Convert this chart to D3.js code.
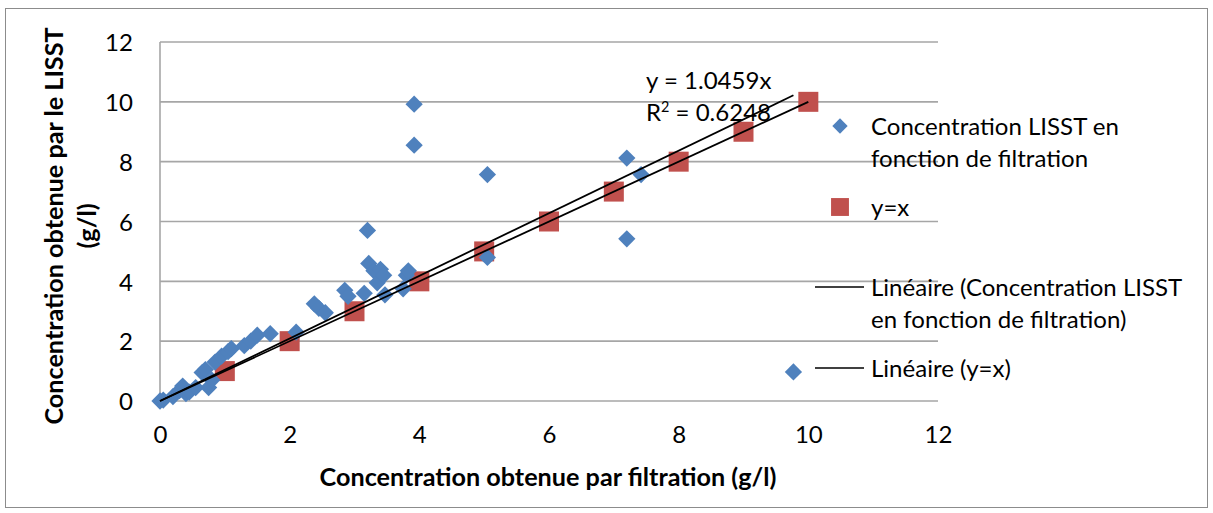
<!DOCTYPE html>
<html><head><meta charset="utf-8">
<script src="https://cdn.jsdelivr.net/npm/d3@7"></script>
<style>body{margin:0;background:#fff}svg{display:block}text{font-family:Lato,sans-serif}</style>
</head><body>
<script>
const lisstX = [0,0.05,0.2,0.3,0.35,0.4,0.45,0.55,0.65,0.7,0.75,0.8,0.85,0.95,1.05,1.1,1.3,1.4,1.5,1.7,2.1,2.38,2.45,2.55,2.85,2.9,3.15,3.2,3.22,3.3,3.35,3.4,3.45,3.47,3.75,3.8,3.83,3.92,3.92,5.05,5.05,7.2,7.2,7.42,9.77];
const lisstY = [0,0.03,0.15,0.35,0.5,0.25,0.3,0.45,0.95,1.05,0.45,0.7,1.3,1.5,1.65,1.75,1.85,2.0,2.2,2.25,2.3,3.25,3.1,2.95,3.7,3.5,3.6,5.7,4.6,4.35,3.95,4.4,4.2,3.55,3.75,4.2,4.35,9.92,8.55,7.57,4.8,8.12,5.42,7.57,0.97];
const identX = [1,2,3,4,5,6,7,8,9,10];
const identY = [1,2,3,4,5,6,7,8,9,10];
const slope = 1.0459;
const r2Value = "0.6248";
const xTicks = [0,2,4,6,8,10,12];
const yTicks = [0,2,4,6,8,10,12];
const legendLabels = [["Concentration LISST en","fonction de filtration"],["y=x"],["Linéaire (Concentration LISST","en fonction de filtration)"],["Linéaire (y=x)"]];
const xTitle = "Concentration obtenue par filtration (g/l)";
const yTitle = ["Concentration obtenue par le LISST","(g/l)"];

const W=1213,H=513;
const svg=d3.select("body").append("svg").attr("width",W).attr("height",H);

function fit(text, weight, target){
  const t=svg.append("text").attr("font-size",100).attr("font-weight",weight).text(text);
  const w=t.node().getComputedTextLength(); t.remove();
  return 100*target/w;
}
const fs = fit("Concentration LISST en","normal",248);
const fsB = fit(xTitle,"bold",457);

svg.append("rect").attr("x",5.5).attr("y",8.5).attr("width",1202).attr("height",499).attr("fill","#fff").attr("stroke","#8c8c8c").attr("stroke-width",1);

const x=d3.scaleLinear().domain([0,12]).range([160,938]);
const y=d3.scaleLinear().domain([0,12]).range([401,42]);
const grid="#a6a6a6";

svg.append("g").selectAll("line").data(yTicks).join("line")
  .attr("x1",x(0)).attr("x2",x(12)).attr("y1",d=>y(d)).attr("y2",d=>y(d))
  .attr("stroke",grid).attr("stroke-width",1.6);
svg.append("line").attr("x1",x(0)).attr("x2",x(0)).attr("y1",y(0)).attr("y2",y(12)).attr("stroke",grid).attr("stroke-width",1.6);

const yAxis=svg.append("g").attr("transform",`translate(${x(0)-27},0)`).call(d3.axisLeft(y).tickValues(yTicks).tickSize(0).tickPadding(0));
yAxis.select(".domain").remove();
yAxis.selectAll("text").attr("font-size",fs).attr("fill","#000").style("font-family","Lato").attr("dy","0.36em");
const xAxis=svg.append("g").attr("transform",`translate(0,${y(0)+25})`).call(d3.axisBottom(x).tickValues(xTicks).tickSize(0).tickPadding(0));
xAxis.select(".domain").remove();
xAxis.selectAll("text").attr("font-size",fs).attr("fill","#000").style("font-family","Lato").attr("dy","0.72em");

svg.append("text").attr("x",548).attr("y",486).attr("text-anchor","middle").attr("font-size",fsB).attr("font-weight","bold").text(xTitle);
const yt=svg.append("text").attr("transform","translate(0,226) rotate(-90)").attr("text-anchor","middle").attr("font-size",fsB).attr("font-weight","bold");
yt.append("tspan").attr("x",0).attr("y",63).text(yTitle[0]);
yt.append("tspan").attr("x",0).attr("y",96).text(yTitle[1]);

const blue="#4f81bd", red="#c0504d";
const lisst=lisstX.map((v,i)=>[v,lisstY[i]]);
const ident=identX.map((v,i)=>[v,identY[i]]);
const sq=d3.symbol().type(d3.symbolSquare).size(400);
const dia=d3.symbol().type(d3.symbolDiamond2).size(190);
svg.append("g").selectAll("path").data(ident).join("path").attr("d",sq)
  .attr("transform",d=>`translate(${x(d[0])},${y(d[1])})`).attr("fill",red);
svg.append("g").selectAll("path").data(lisst).join("path").attr("d",dia)
  .attr("transform",d=>`translate(${x(d[0])},${y(d[1])})`).attr("fill",blue);

const xmax=d3.max(lisstX);
const line=d3.line().x(d=>x(d[0])).y(d=>y(d[1]));
svg.append("path").attr("d",line([[0,0],[xmax,slope*xmax]])).attr("stroke","#000").attr("stroke-width",1.8).attr("fill","none");
svg.append("path").attr("d",line([[0,0],[d3.max(identX),d3.max(identY)]])).attr("stroke","#000").attr("stroke-width",1.8).attr("fill","none");

svg.append("text").attr("x",646).attr("y",89).attr("font-size",fs).text("y = "+slope.toFixed(4)+"x");
const r2=svg.append("text").attr("x",646).attr("y",121).attr("font-size",fs);
r2.append("tspan").text("R");
r2.append("tspan").attr("font-size",fs*0.6).attr("dy",-9).text("2");
r2.append("tspan").attr("dy",9).text(" = "+r2Value);

const lg=svg.append("g").attr("font-size",fs);
const lx=871;
const rows=[126,207,287,368];
lg.append("path").attr("d",d3.symbol().type(d3.symbolDiamond2).size(150)).attr("transform",`translate(840,${rows[0]})`).attr("fill",blue);
lg.append("path").attr("d",d3.symbol().type(d3.symbolSquare).size(320)).attr("transform",`translate(840,${rows[1]})`).attr("fill",red);
[2,3].forEach(i=>lg.append("line").attr("x1",815).attr("x2",864).attr("y1",rows[i]).attr("y2",rows[i]).attr("stroke","#000").attr("stroke-width",1.6));
legendLabels.forEach((lines,i)=>{
  lines.forEach((t,j)=>{
    lg.append("text").attr("x",lx).attr("y",rows[i]+j*32).attr("dy","0.36em").text(t);
  });
});
</script>
</body></html>
